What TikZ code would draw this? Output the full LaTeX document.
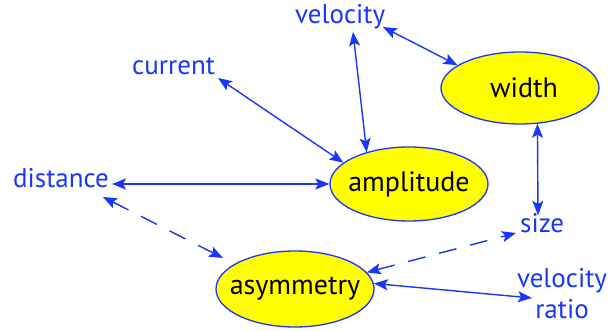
\documentclass[tikz,border=0pt]{standalone}
\usepackage{fontspec}
\setmainfont{PT Sans}
\usetikzlibrary{shapes.geometric,arrows.meta}
\definecolor{lblue}{RGB}{25,55,245}
\definecolor{eyellow}{RGB}{255,255,0}
\begin{document}
\begin{tikzpicture}[x=1pt,y=-1pt,
  lbl/.style={text=lblue,inner sep=0pt,font=\fontsize{27}{31}\selectfont},
  oval/.style={ellipse,draw=lblue,line width=1.3pt,fill=eyellow,inner sep=0pt,
    minimum width=158pt,minimum height=74pt,font=\fontsize{28}{32}\selectfont},
  link/.style={draw=lblue,line width=1.4pt,
    {Stealth[length=14pt,width=11pt,inset=3pt]}-{Stealth[length=14pt,width=11pt,inset=3pt]}},
  dlink/.style={link,dash pattern=on 18pt off 14pt}]
\useasboundingbox[fill=white] (0,0) rectangle (608,331);
% ellipses
\node[oval,minimum height=72pt] (wid) at (520,88) {\makebox[0pt]{\hspace*{8pt}width}};
\node[oval] (amp) at (409,184) {\makebox[0pt]{amplitude}};
\node[oval,minimum height=76pt] (asym) at (295,289) {\makebox[0pt]{asymmetry}};
% labels
\node[lbl,anchor=base west] (vel) at (295,24) {velocity};
\node[lbl,anchor=base west] (cur) at (132,75) {current};
\node[lbl,anchor=base west] (dist) at (13,188) {distance};
\node[lbl,anchor=base west] (size) at (520,233) {size};
\node[lbl,align=center,anchor=center] (vr) at (562,294) {velocity\\ratio};
% connectors
\draw[link] ([shift={(88,3)}]vel.base west) -- (wid.160);
\draw[link] ([shift={(58,8)}]vel.base west) -- (amp.143);
\draw[link] ([shift={(86,3)}]cur.base west) -- (amp.162);
\draw[link] ([shift={(99,-4)}]dist.base west) -- (amp.west);
\draw[dlink] ([shift={(90,9)}]dist.base west) -- ([shift={(-72,-31)}]asym.center);
\draw[link] (wid.-64) -- ([shift={(18,-18)}]size.base west);
\draw[dlink] (asym.13) -- ([shift={(-4,0)}]size.base west);
\draw[link] (asym.4) -- ([shift={(-30,4)}]vr.center);
\end{tikzpicture}
\end{document}
